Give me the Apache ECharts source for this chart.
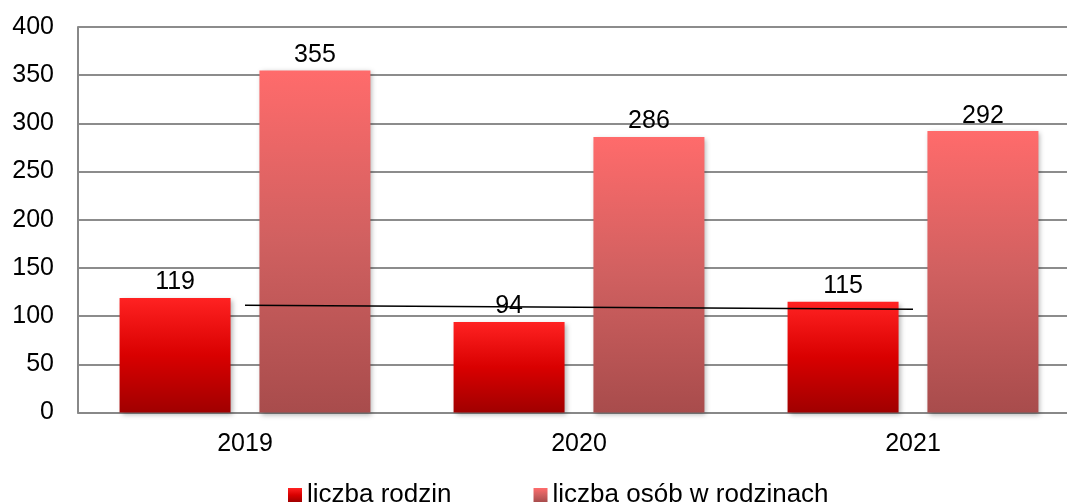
<!DOCTYPE html>
<html><head><meta charset="utf-8">
<script src="https://cdn.jsdelivr.net/npm/echarts@6/dist/echarts.min.js"></script>
<style>html,body{margin:0;padding:0;background:#fff;overflow:hidden;width:1067px;height:503px}#c{width:1090px;height:503px}</style>
</head><body><div id="c"></div>
<script>
const categories = ['2019', '2020', '2021'];
const families = [119, 94, 115];
const persons = [355, 286, 292];
const trendValues = [111.3, 109.3, 107.3];
const yTicks = [0, 50, 100, 150, 200, 250, 300, 350, 400];
const seriesNames = ['liczba rodzin', 'liczba osób w rodzinach'];

const font = 'Liberation Sans, Arial, sans-serif';
const chart = echarts.init(document.getElementById('c'), null, {renderer: 'canvas'});
const grad = (a, b, c) => new echarts.graphic.LinearGradient(0, 0, 0, 1, [
  {offset: 0, color: a}, {offset: 0.5, color: b}, {offset: 1, color: c}]);
const shadow = {shadowBlur: 5, shadowColor: 'rgba(0,0,0,0.3)', shadowOffsetX: 2, shadowOffsetY: 2};
chart.setOption({
  animation: false,
  grid: {left: 78, width: 1002, top: 27, height: 385.6, containLabel: false},
  legend: {
    left: 283, top: 477, itemWidth: 14, itemHeight: 14, itemGap: 82,
    textStyle: {fontFamily: font, fontSize: 26, color: '#000'},
    data: seriesNames.map(n => ({name: n, icon: 'rect'}))
  },
  xAxis: {
    type: 'category', data: categories,
    axisLine: {lineStyle: {color: '#888', width: 2}},
    axisTick: {show: false},
    axisLabel: {fontFamily: font, fontSize: 25, color: '#000', margin: 19}
  },
  yAxis: {
    type: 'value', min: yTicks[0], max: yTicks[yTicks.length - 1], interval: 50,
    axisLine: {show: true, lineStyle: {color: '#888', width: 2}},
    axisTick: {show: false},
    splitLine: {lineStyle: {color: '#8c8c8c', width: 2}},
    axisLabel: {fontFamily: font, fontSize: 25, color: '#000', margin: 24}
  },
  series: [
    {
      name: seriesNames[0], type: 'bar', data: families, barWidth: 111, barGap: '26%',
      itemStyle: Object.assign({color: grad('#ff2222', '#d90000', '#a00000')}, shadow),
      label: {show: true, position: 'top', distance: 3, fontFamily: font, fontSize: 25, color: '#000'}
    },
    {
      name: seriesNames[1], type: 'bar', data: persons, barWidth: 111,
      itemStyle: Object.assign({color: grad('#ff6b6b', '#d06060', '#a84c4c')}, shadow),
      label: {show: true, position: 'top', distance: 3, fontFamily: font, fontSize: 25, color: '#000'}
    },
    {
      name: 'trend', type: 'line', data: trendValues, symbol: 'none', z: 5,
      lineStyle: {color: '#000', width: 1.5}
    }
  ]
});
</script></body></html>
